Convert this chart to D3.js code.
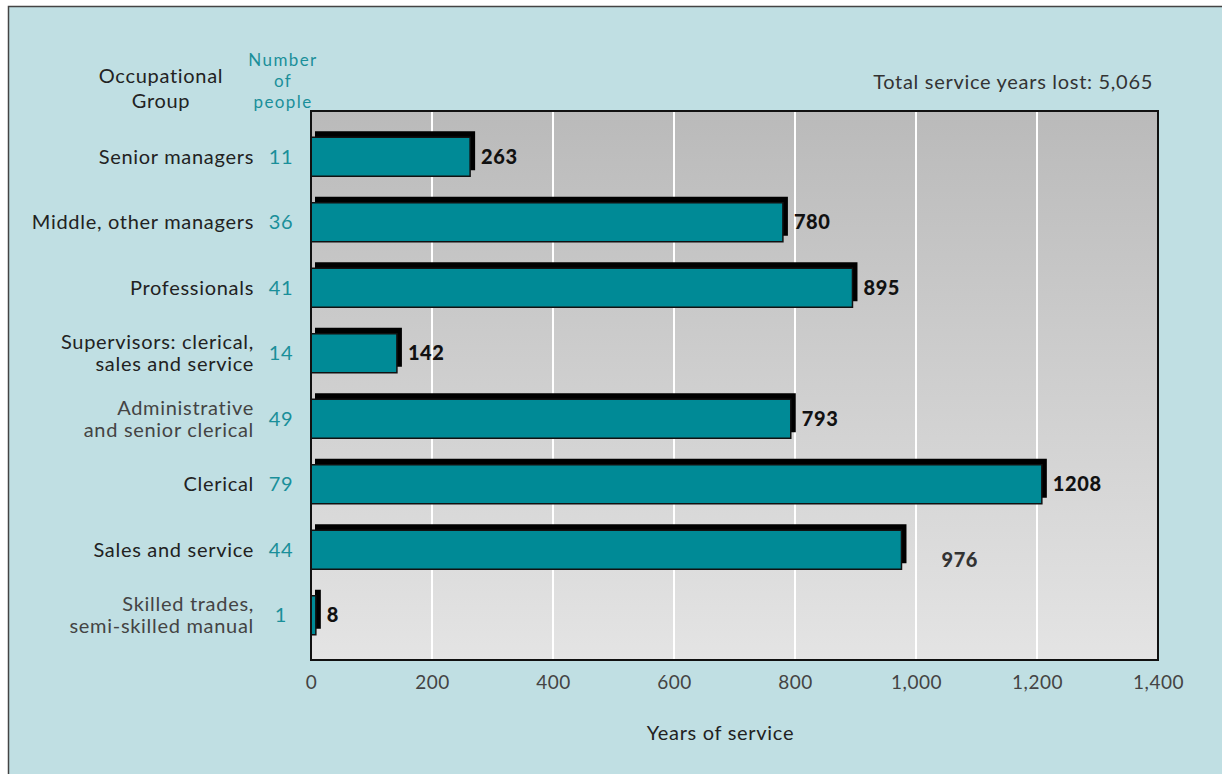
<!DOCTYPE html>
<html>
<head>
<meta charset="utf-8">
<script src="https://cdn.jsdelivr.net/npm/d3@7"></script>
<style>
  body { margin: 0; background: #ffffff; }
  svg { display: block; font-family: Lato, "Open Sans", sans-serif; }
  .lbl { font-size: 20px; letter-spacing: 0.7px; }
</style>
</head>
<body>
<svg id="chart" width="1222" height="774"></svg>
<script>
// categories (each line of the label), people counts and years of service
var groups = [
  ["Senior managers"],
  ["Middle, other managers"],
  ["Professionals"],
  ["Supervisors: clerical,", "sales and service"],
  ["Administrative", "and senior clerical"],
  ["Clerical"],
  ["Sales and service"],
  ["Skilled trades,", "semi-skilled manual"]
];
var people = [11, 36, 41, 14, 49, 79, 44, 1];
var years = [263, 780, 895, 142, 793, 1208, 976, 8];
var xTicks = [0, 200, 400, 600, 800, 1000, 1200, 1400];
var totalText = "Total service years lost: 5,065";

var svg = d3.select("#chart");

// panel background
svg.append("rect")
  .attr("x", 8.5).attr("y", 6.5)
  .attr("width", 1230).attr("height", 780)
  .attr("fill", "#c0dfe3")
  .attr("stroke", "#444").attr("stroke-width", 1.5);

var margin = {left: 311, right: 1158, top: 111, bottom: 660};

var x = d3.scaleLinear().domain([0, 1400]).range([margin.left, margin.right]);
var y = d3.scaleBand().domain(d3.range(groups.length))
  .range([124, 648]).paddingInner(0.4).paddingOuter(0.2);

// plot gradient
var defs = svg.append("defs");
var grad = defs.append("linearGradient").attr("id", "plotbg")
  .attr("x1", 0).attr("y1", 0).attr("x2", 0).attr("y2", 1);
grad.append("stop").attr("offset", "0%").attr("stop-color", "#bababa");
grad.append("stop").attr("offset", "100%").attr("stop-color", "#e4e4e4");

svg.append("rect")
  .attr("x", margin.left).attr("y", margin.top)
  .attr("width", margin.right - margin.left)
  .attr("height", margin.bottom - margin.top)
  .attr("fill", "url(#plotbg)");

// grid
svg.append("g").selectAll("line")
  .data(xTicks.slice(1, -1))
  .join("line")
  .attr("x1", d => x(d)).attr("x2", d => x(d))
  .attr("y1", margin.top).attr("y2", margin.bottom)
  .attr("stroke", "#fff").attr("stroke-width", 2);

// shadows
var bh = 39;
var bars = svg.append("g");
bars.selectAll("rect.shadow")
  .data(years)
  .join("rect")
  .attr("class", "shadow")
  .attr("x", x(0) + 4)
  .attr("y", (d, i) => y(i) + y.bandwidth() / 2 - bh / 2 - 6)
  .attr("width", d => x(d) - x(0) + 1)
  .attr("height", bh)
  .attr("fill", "#000");

bars.selectAll("rect.bar")
  .data(years)
  .join("rect")
  .attr("class", "bar")
  .attr("x", x(0))
  .attr("y", (d, i) => y(i) + y.bandwidth() / 2 - bh / 2)
  .attr("width", d => x(d) - x(0))
  .attr("height", bh)
  .attr("fill", "#008a96")
  .attr("stroke", "#111").attr("stroke-width", 1.5);

// value labels (the 976 label sits lower and to the right in the original)
svg.append("g").selectAll("text")
  .data(years)
  .join("text")
  .attr("x", (d, i) => x(d) + (i === 6 ? 40 : 11))
  .attr("y", (d, i) => y(i) + y.bandwidth() / 2 + 7 + (i === 6 ? 10 : 0))
  .attr("font-size", 20).attr("font-weight", 900)
  .attr("letter-spacing", 0.6)
  .attr("fill", (d, i) => i === 6 ? "#333" : "#111")
  .text(d => d);

// plot frame
svg.append("rect")
  .attr("x", margin.left).attr("y", margin.top)
  .attr("width", margin.right - margin.left)
  .attr("height", margin.bottom - margin.top)
  .attr("fill", "none").attr("stroke", "#111").attr("stroke-width", 2);

// x axis
var xAxis = d3.axisBottom(x).tickValues(xTicks).tickSize(0).tickPadding(16)
  .tickFormat(d3.format(","));
var ax = svg.append("g")
  .attr("transform", "translate(0," + margin.bottom + ")")
  .call(xAxis);
ax.select(".domain").remove();
ax.selectAll("text")
  .attr("font-family", "Lato, 'Open Sans', sans-serif")
  .attr("font-size", 19).attr("letter-spacing", 0.5).attr("fill", "#444");

svg.append("text")
  .attr("class", "lbl")
  .attr("x", (margin.left + margin.right) / 2 - 14).attr("y", 740)
  .attr("text-anchor", "middle")
  .attr("fill", "#222")
  .text("Years of service");

// category labels
var cat = svg.append("g").selectAll("text")
  .data(groups)
  .join("text")
  .attr("class", "lbl")
  .attr("x", 254)
  .attr("text-anchor", "end")
  .attr("fill", (d, i) => d.length > 1 && i > 3 ? "#444" : "#222");
cat.each(function(d, i) {
  var cy = y(i) + y.bandwidth() / 2;
  var t = d3.select(this);
  d.forEach(function(line, j) {
    t.append("tspan")
      .attr("x", 254)
      .attr("y", cy + 7 + (j - (d.length - 1) / 2) * 22)
      .text(line);
  });
});

// people counts
svg.append("g").selectAll("text")
  .data(people)
  .join("text")
  .attr("class", "lbl")
  .attr("x", 281)
  .attr("y", (d, i) => y(i) + y.bandwidth() / 2 + 7)
  .attr("text-anchor", "middle")
  .attr("fill", "#1a8f9a")
  .text(d => d);

// headers
var hdr = svg.append("text").attr("class", "lbl")
  .attr("text-anchor", "middle").attr("fill", "#222");
hdr.append("tspan").attr("x", 161).attr("y", 83).text("Occupational");
hdr.append("tspan").attr("x", 161).attr("y", 108).text("Group");

svg.append("g").selectAll("text")
  .data(["Number", "of", "people"])
  .join("text")
  .attr("x", 283)
  .attr("y", (d, i) => 66 + i * 21)
  .attr("text-anchor", "middle")
  .attr("font-size", 17).attr("letter-spacing", 1.4)
  .attr("fill", "#1a8f9a")
  .text(d => d);

svg.append("text").attr("class", "lbl")
  .attr("x", 1153).attr("y", 89)
  .attr("text-anchor", "end")
  .attr("fill", "#333")
  .text(totalText);
</script>
</body>
</html>
